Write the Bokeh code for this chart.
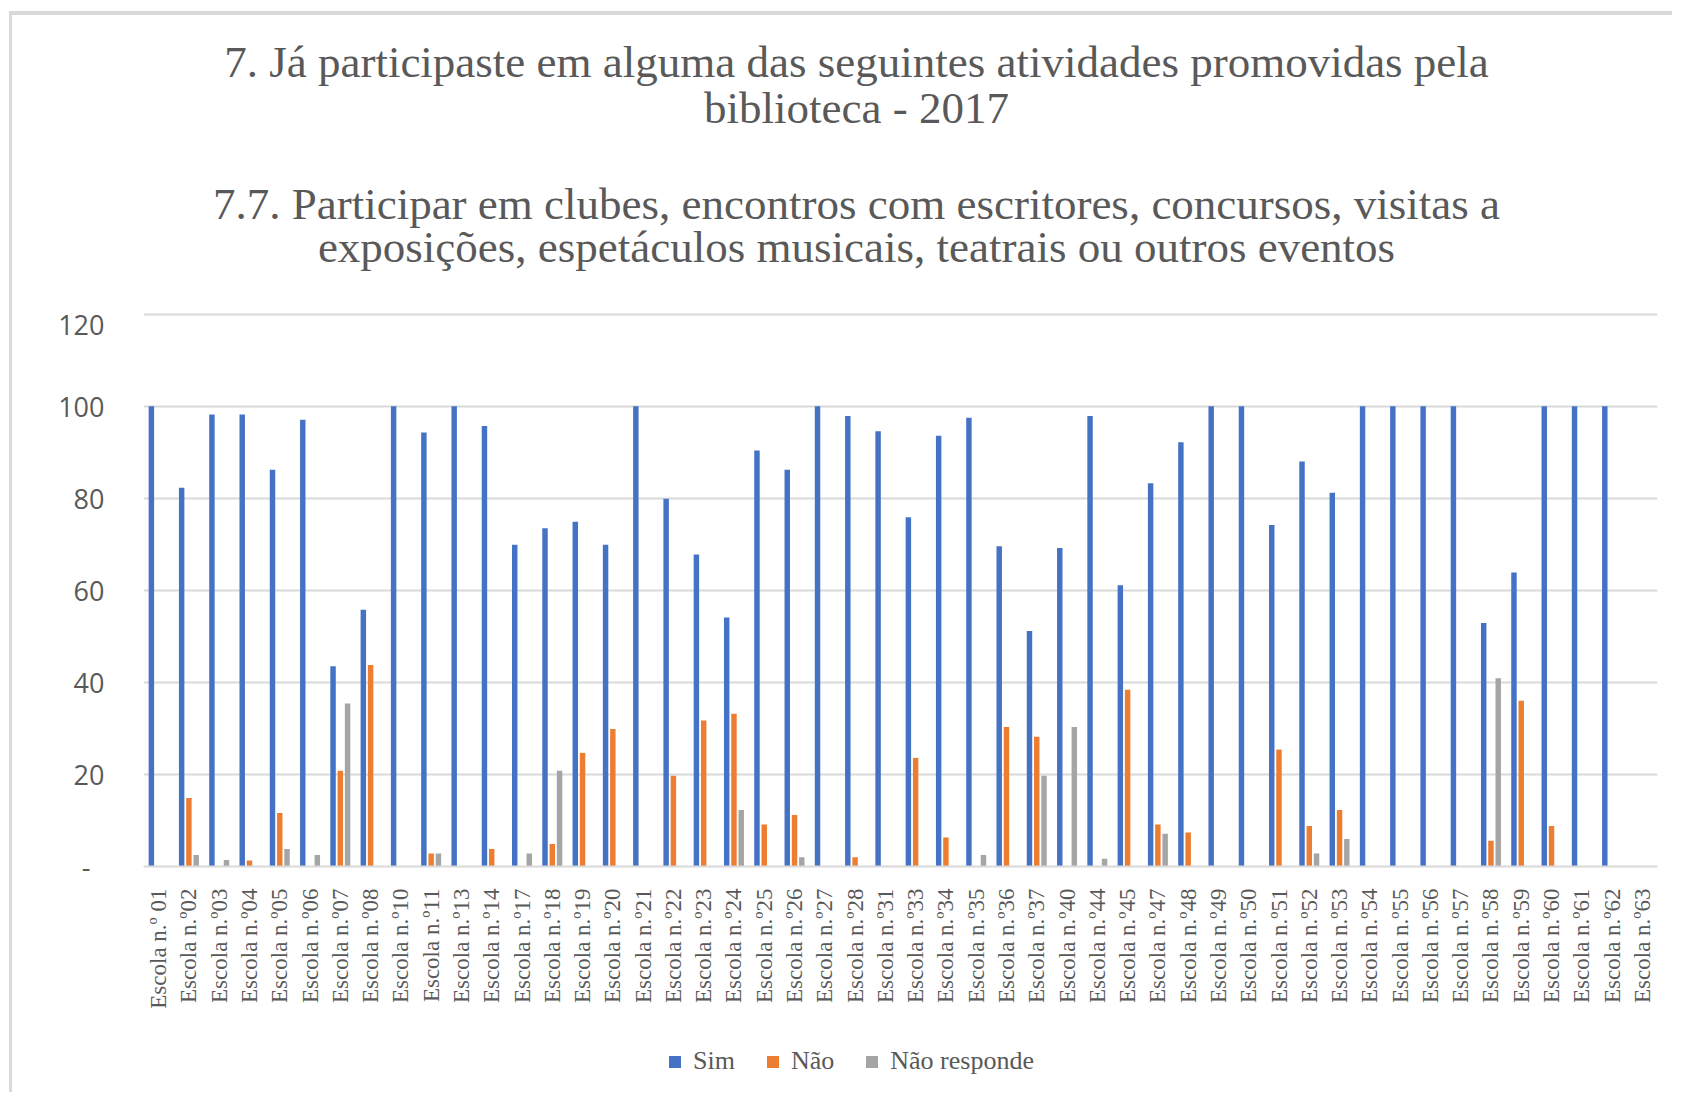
import math
from bokeh.plotting import figure
from bokeh.layouts import column
from bokeh.models import (ColumnDataSource, FactorRange, Range1d, FixedTicker,
                          Legend, LegendItem, Label)
from bokeh.transform import dodge
from bokeh.embed import file_html
from bokeh.resources import INLINE

# ---------------- data ----------------
schools = ["Escola n.º 01", "Escola n.º02", "Escola n.º03", "Escola n.º04", "Escola n.º05",
           "Escola n.º06", "Escola n.º07", "Escola n.º08", "Escola n.º10", "Escola n.º11",
           "Escola n.º13", "Escola n.º14", "Escola n.º17", "Escola n.º18", "Escola n.º19",
           "Escola n.º20", "Escola n.º21", "Escola n.º22", "Escola n.º23", "Escola n.º24",
           "Escola n.º25", "Escola n.º26", "Escola n.º27", "Escola n.º28", "Escola n.º31",
           "Escola n.º33", "Escola n.º34", "Escola n.º35", "Escola n.º36", "Escola n.º37",
           "Escola n.º40", "Escola n.º44", "Escola n.º45", "Escola n.º47", "Escola n.º48",
           "Escola n.º49", "Escola n.º50", "Escola n.º51", "Escola n.º52", "Escola n.º53",
           "Escola n.º54", "Escola n.º55", "Escola n.º56", "Escola n.º57", "Escola n.º58",
           "Escola n.º59", "Escola n.º60", "Escola n.º61", "Escola n.º62", "Escola n.º63"]

sim = [100, 82.3, 98.2, 98.2, 86.2, 97.1, 43.5, 55.8, 100, 94.3,
       100, 95.7, 69.9, 73.5, 74.9, 69.9, 100, 79.9, 67.8, 54.1,
       90.4, 86.2, 100, 97.9, 94.6, 75.9, 93.6, 97.5, 69.6, 51.2,
       69.2, 97.9, 61.1, 83.3, 92.2, 100, 100, 74.2, 88.0, 81.2,
       100, 100, 100, 100, 52.9, 63.9, 100, 100, 100, 0]

nao = [0, 14.9, 0, 1.3, 11.6, 0, 20.8, 43.8, 0, 2.8,
       0, 3.8, 0, 4.9, 24.7, 29.9, 0, 19.7, 31.7, 33.2,
       9.1, 11.2, 0, 2.0, 0, 23.6, 6.3, 0, 30.3, 28.2,
       0, 0, 38.4, 9.1, 7.4, 0, 0, 25.4, 8.8, 12.3,
       0, 0, 0, 0, 5.6, 36.0, 8.8, 0, 0, 0]

nao_responde = [0, 2.5, 1.4, 0, 3.8, 2.5, 35.4, 0, 0, 2.8,
                0, 0, 2.8, 20.8, 0, 0, 0, 0, 0, 12.3,
                0, 2.0, 0, 0, 0, 0, 0, 2.5, 0, 19.7,
                30.3, 1.7, 0, 7.1, 0, 0, 0, 0, 2.8, 6.0,
                0, 0, 0, 0, 40.9, 0, 0, 0, 0, 0]

series_names = ["Sim", "Não", "Não responde"]
y_ticks = [0, 20, 40, 60, 80, 100, 120]

title_lines = ["7. Já participaste em alguma das seguintes atividades promovidas pela",
               "biblioteca - 2017"]
subtitle_lines = ["7.7. Participar em clubes, encontros com escritores, concursos, visitas a",
                  "exposições, espetáculos musicais, teatrais ou outros eventos"]

# ---------------- style / layout ----------------
BLUE, ORANGE, GRAY = "#4472C4", "#ED7D31", "#A5A5A5"
COLORS = [BLUE, ORANGE, GRAY]
TEXT = "#595959"
GRID = "#D9D9D9"
SERIF = "Liberation Serif"

W = 1660
H_TOP, H_MAIN, H_BOT = 290, 711, 76
FRAME_LEFT, FRAME_RIGHT = 131, 1645
FRAME_TOP, FRAME_BOTTOM = 6, 561
Y_MAX = 120.6

src = ColumnDataSource(dict(school=schools, sim=sim, nao=nao, nr=nao_responde))
cols = ["sim", "nao", "nr"]
offsets = [-0.24, 0.0, 0.24]
bw = 0.18

# ---- title block (frame aligned with the chart frame below) ----
top = figure(width=W, height=H_TOP, output_backend="svg", toolbar_location=None,
             x_axis_location=None, y_axis_location=None,
             x_range=Range1d(FRAME_LEFT, FRAME_RIGHT), y_range=Range1d(H_TOP, 0),
             min_border_left=FRAME_LEFT, min_border_right=W - FRAME_RIGHT,
             min_border_top=0, min_border_bottom=0, outline_line_color=None,
             background_fill_color="white", border_fill_color="white")
top.grid.visible = False
title_center = 844
title_baselines = [46, 92, 188, 231]
for txt, b in zip(title_lines + subtitle_lines, title_baselines):
    top.add_layout(Label(x=title_center, y=b, text=txt, text_align="center",
                         text_baseline="alphabetic", text_font=SERIF,
                         text_font_size="45px", text_color=TEXT))

# ---- main chart ----
p = figure(width=W, height=H_MAIN, output_backend="svg", toolbar_location=None,
           x_range=FactorRange(factors=schools, range_padding=0),
           y_range=Range1d(0, Y_MAX),
           min_border_left=FRAME_LEFT, min_border_top=FRAME_TOP,
           min_border_right=W - FRAME_RIGHT, min_border_bottom=H_MAIN - FRAME_BOTTOM,
           outline_line_color=None, background_fill_color="white",
           border_fill_color="white")

for col, off, c in zip(cols, offsets, COLORS):
    p.vbar(x=dodge("school", off, range=p.x_range), top=col, width=bw, source=src,
           fill_color=c, line_color=None)

p.xgrid.grid_line_color = None
p.ygrid.grid_line_color = GRID
p.ygrid.grid_line_width = 2
p.yaxis.ticker = FixedTicker(ticks=y_ticks)
p.yaxis.major_label_overrides = {0: "-\u00a0\u00a0"}
p.yaxis.axis_line_color = None
p.yaxis.major_tick_line_color = None
p.yaxis.minor_tick_line_color = None
p.yaxis.major_tick_out = 0
p.yaxis.major_tick_in = 0
p.yaxis.major_label_standoff = 39
p.yaxis.major_label_text_font = "Open Sans"
p.yaxis.major_label_text_font_size = "27px"
p.yaxis.major_label_text_color = TEXT

p.xaxis.axis_line_color = GRID
p.xaxis.axis_line_width = 2
p.xaxis.major_tick_line_color = None
p.xaxis.major_tick_out = 0
p.xaxis.major_tick_in = 0
p.xaxis.major_label_orientation = math.pi / 2
p.xaxis.major_label_standoff = 22
p.xaxis.major_label_text_font = SERIF
p.xaxis.major_label_text_font_size = "23px"
p.xaxis.major_label_text_color = TEXT

# ---- legend strip: key swatches only (zero-size bars, value window far away) ----
bot = figure(width=W, height=H_BOT, output_backend="svg", toolbar_location=None,
             x_axis_location=None, y_axis_location=None,
             x_range=p.x_range, y_range=Range1d(1000, 1001),
             min_border_left=FRAME_LEFT, min_border_right=W - FRAME_RIGHT,
             min_border_top=0, min_border_bottom=0, outline_line_color=None,
             background_fill_color="white", border_fill_color="white")
bot.grid.visible = False
key_renderers = [bot.vbar(x=dodge("school", off, range=p.x_range), top=col, bottom=col,
                          width=0, source=src, fill_color=c, line_color=None)
                 for col, off, c in zip(cols, offsets, COLORS)]
legend = Legend(items=[LegendItem(label=n, renderers=[r])
                       for n, r in zip(series_names, key_renderers)],
                orientation="horizontal", location=(524, 16),
                glyph_width=15, glyph_height=15, label_standoff=11, spacing=30,
                padding=0, margin=0, border_line_color=None,
                background_fill_alpha=0,
                label_text_font=SERIF, label_text_font_size="26px",
                label_text_color=TEXT)
bot.add_layout(legend, "center")

layout = column(top, p, bot, spacing=0)
layout.styles = {"border-top": "4px solid #D9D9D9", "border-left": "3px solid #D9D9D9",
                 "margin-left": "9px", "margin-top": "11px"}

open("out.html", "w").write(file_html(layout, INLINE))
